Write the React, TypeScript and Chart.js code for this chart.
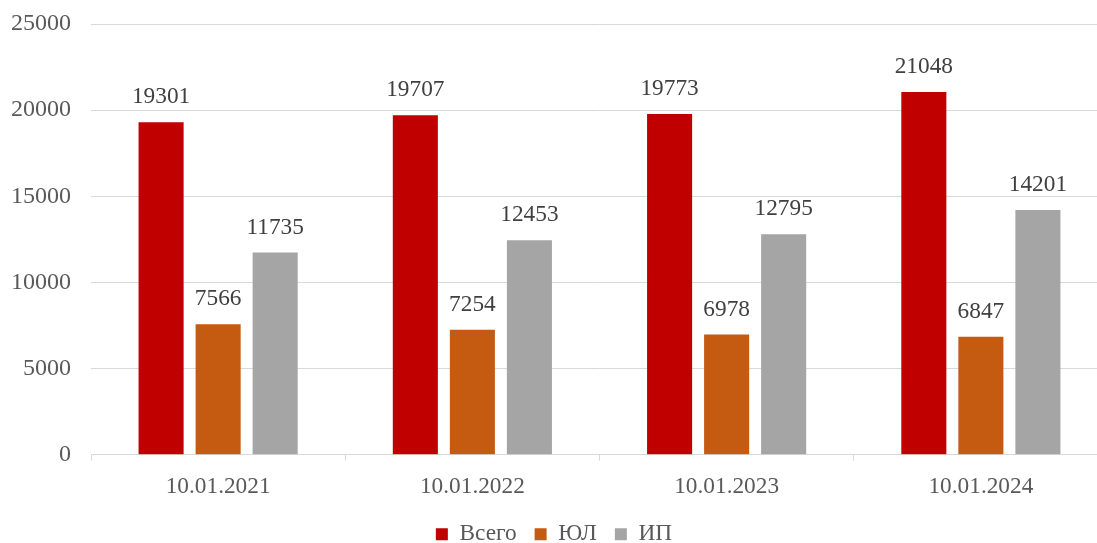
import React, { useEffect, useRef } from "react";
import { Chart, registerables } from "chart.js";

Chart.register(...registerables);

const categories = ["10.01.2021", "10.01.2022", "10.01.2023", "10.01.2024"];
const totalValues = [19301, 19707, 19773, 21048];
const legalValues = [7566, 7254, 6978, 6847];
const individualValues = [11735, 12453, 12795, 14201];
const seriesNames = ["Всего", "ЮЛ", "ИП"];
const yTicks = [0, 5000, 10000, 15000, 20000, 25000];

const FONT = '"Liberation Serif", "Times New Roman", serif';

const valueLabels = {
  id: "valueLabels",
  afterDatasetsDraw(chart: any) {
    const ctx = chart.ctx;
    ctx.save();
    ctx.font = `23.3px ${FONT}`;
    ctx.fillStyle = "#404040";
    ctx.textAlign = "center";
    ctx.textBaseline = "middle";
    chart.data.datasets.forEach((ds: any, i: number) => {
      const meta = chart.getDatasetMeta(i);
      meta.data.forEach((el: any, j: number) => {
        ctx.fillText(String(ds.data[j]), el.x, el.y - 25);
      });
    });
    ctx.restore();
  },
};

export default function App() {
  const ref = useRef<HTMLCanvasElement>(null);
  useEffect(() => {
    if (!ref.current) return;
    const chart = new Chart(ref.current, {
      type: "bar",
      data: {
        labels: categories,
        datasets: [
          { label: seriesNames[0], data: totalValues, backgroundColor: "#C00000" },
          { label: seriesNames[1], data: legalValues, backgroundColor: "#C55A11" },
          { label: seriesNames[2], data: individualValues, backgroundColor: "#A5A5A5" },
        ],
      },
      options: {
        responsive: false,
        animation: false,
        devicePixelRatio: 1,
        layout: { padding: { top: 24, left: 0, right: 0, bottom: 0 } },
        datasets: {
          bar: { categoryPercentage: 0.673, barPercentage: 0.79 },
        },
        plugins: {
          legend: {
            position: "bottom",
            labels: {
              font: { family: FONT, size: 23.3 },
              color: "#595959",
              boxWidth: 12,
              boxHeight: 12,
              padding: 18,
            },
          },
          tooltip: { enabled: false },
        },
        scales: {
          x: {
            grid: {
              drawOnChartArea: false,
              drawTicks: true,
              tickLength: 6,
              color: "#D9D9D9",
              offset: true,
            },
            border: { display: true, color: "#D9D9D9", width: 1 },
            ticks: {
              font: { family: FONT, size: 23.3 },
              color: "#595959",
              padding: 12,
              maxRotation: 0,
            },
            afterFit(scale: any) {
              scale.height = 50;
            },
          },
          y: {
            min: 0,
            max: 25000,
            afterBuildTicks(scale: any) {
              scale.ticks = yTicks.map((v) => ({ value: v }));
            },
            grid: { color: "#D9D9D9", drawTicks: false, lineWidth: 1 },
            border: { display: false },
            ticks: {
              font: { family: FONT, size: 24 },
              color: "#595959",
              padding: 20,
              callback: (v: any) => String(v),
            },
            afterFit(scale: any) {
              scale.width = 91;
              scale.paddingTop = 0;
              scale.paddingBottom = 0;
            },
          },
        },
      },
      plugins: [valueLabels],
    });
    return () => chart.destroy();
  }, []);
  return (
    <div
      style={{
        position: "fixed",
        left: 0,
        top: 0,
        width: 1097,
        height: 543,
        overflow: "hidden",
        background: "#fff",
      }}
    >
      <canvas ref={ref} width={1108} height={556} style={{ display: "block" }} />
    </div>
  );
}
